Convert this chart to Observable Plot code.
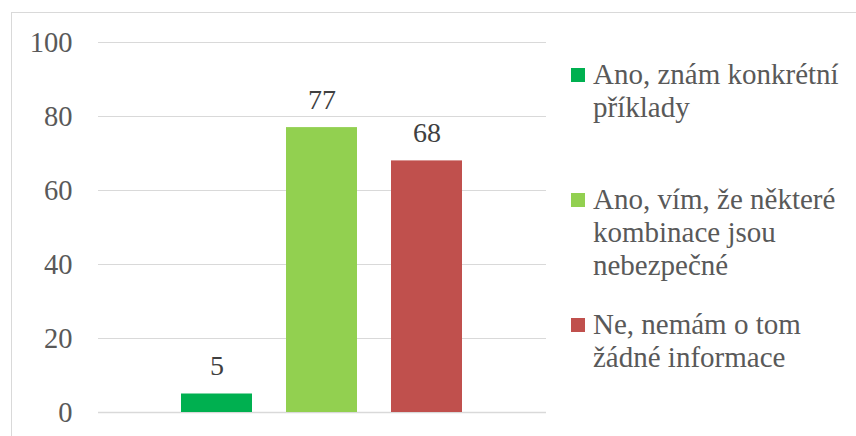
<!DOCTYPE html>
<html>
<head>
<meta charset="utf-8">
<script src="https://cdn.jsdelivr.net/npm/d3@7"></script>
<script src="https://cdn.jsdelivr.net/npm/@observablehq/plot@0.6"></script>
<style>
  html, body { margin: 0; padding: 0; background: #fff; overflow: hidden; }
  #wrap { position: relative; width: 856px; height: 436px; font-family: 'Liberation Serif', serif; }
  #chart { position: absolute; left: 0; top: 0; }
  #frame { position: absolute; left: 11px; top: 12px; width: 900px; height: 500px; border: 1px solid #d9d9d9; box-sizing: border-box; pointer-events: none; }
  #legend { position: absolute; left: 0; top: 0; }
  .item { position: absolute; left: 571px; width: 285px; display: flex; align-items: flex-start; }
  .sw { width: 14px; height: 14px; margin-top: 10px; margin-right: 8px; flex: none; }
  .lab { font-family: 'Liberation Serif', serif; font-size: 29px; line-height: 33px; color: #595959; width: 262px; }
</style>
</head>
<body>
<div id="wrap">
  <div id="chart"></div>
  <div id="legend"></div>
  <div id="frame"></div>
</div>
<script>
const categories = [
  "Ano, znám konkrétní příklady",
  "Ano, vím, že některé kombinace jsou nebezpečné",
  "Ne, nemám o tom žádné informace"
];
const values = [5, 77, 68];
const colors = ["#00B050", "#92D050", "#C0504D"];
const yTicks = [0, 20, 40, 60, 80, 100];

const data = categories.map((c, i) => ({cat: c, value: values[i]}));

const chart = Plot.plot({
  width: 560,
  height: 436,
  marginLeft: 98,
  marginRight: 14,
  marginTop: 42,
  marginBottom: 24,
  style: {fontFamily: "Liberation Serif", fontSize: "28px", color: "#595959", background: "transparent", overflow: "visible"},
  x: {domain: categories, paddingInner: 0.321, paddingOuter: 0.774, axis: null},
  y: {domain: [0, 100], axis: null},
  color: {domain: categories, range: colors},
  marks: [
    Plot.ruleY(yTicks.filter(t => t > 0), {stroke: "#d9d9d9", strokeWidth: 1}),
    Plot.ruleY([0], {stroke: "#d9d9d9", strokeWidth: 1.5}),
    Plot.barY(data, {x: "cat", y: "value", fill: "cat"}),
    Plot.text(data, {x: "cat", y: "value", text: d => String(d.value), lineAnchor: "bottom", dy: -19, fill: "#404040", fontSize: 28, fontFamily: "Liberation Serif"}),
    Plot.axisY({ticks: yTicks, tickSize: 0, tickPadding: 26, fontSize: 28.5, label: null, fontFamily: "Liberation Serif", tickFormat: d => String(d)})
  ]
});
document.getElementById("chart").appendChild(chart);

const legend = document.getElementById("legend");
categories.forEach((c, i) => {
  const item = document.createElement("div");
  item.className = "item";
  item.style.top = (58 + i * 125) + "px";
  const sw = document.createElement("div");
  sw.className = "sw";
  sw.style.background = colors[i];
  const lab = document.createElement("div");
  lab.className = "lab";
  lab.textContent = c;
  item.appendChild(sw);
  item.appendChild(lab);
  legend.appendChild(item);
});
</script>
</body>
</html>
